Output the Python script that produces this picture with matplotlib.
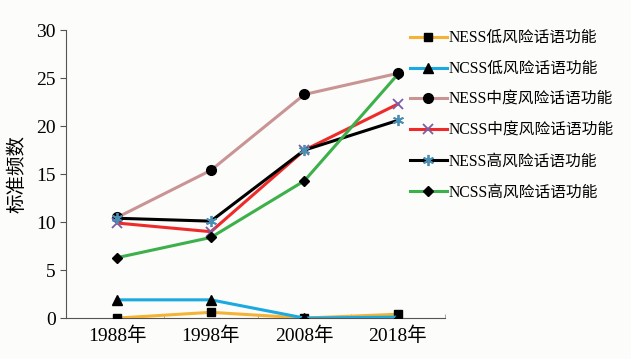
import matplotlib.pyplot as plt

# data
years = ['1988年', '1998年', '2008年', '2018年']
nessLow = [0.0, 0.6, 0.0, 0.4]
ncssLow = [1.9, 1.9, 0.0, 0.1]
nessMid = [10.5, 15.4, 23.3, 25.5]
ncssMid = [9.9, 9.0, 17.5, 22.3]
nessHigh = [10.4, 10.1, 17.5, 20.6]
ncssHigh = [6.3, 8.4, 14.3, 25.4]

labels = ['NESS低风险话语功能', 'NCSS低风险话语功能', 'NESS中度风险话语功能',
          'NCSS中度风险话语功能', 'NESS高风险话语功能', 'NCSS高风险话语功能']

plt.rcParams['font.family'] = ['Liberation Serif', 'Noto Sans CJK SC']

fig = plt.figure(figsize=(6.31, 3.59), dpi=100)
fig.patch.set_facecolor('#fcfcfa')
ax = fig.add_axes((0.1046, 0.114, 0.6, 0.802))
ax.set_facecolor('#fcfcfa')

x = list(range(len(years)))
lw = 2.2
ax.plot(x, nessLow, color='#f5b335', lw=lw, marker='s', ms=6,
        mfc='black', mec='black', label=labels[0], zorder=3)
ax.plot(x, ncssLow, color='#1ba9e1', lw=lw, marker='^', ms=6.5,
        mfc='black', mec='black', label=labels[1], zorder=3)
ax.plot(x, nessMid, color='#c99494', lw=lw, marker='o', ms=7,
        mfc='black', mec='black', label=labels[2], zorder=3)
ax.plot(x, ncssMid, color='#ee2a2a', lw=lw, marker='x', ms=7, mew=1.3,
        mec='#7a5ea8', label=labels[3], zorder=3)
ax.plot(x, nessHigh, color='black', lw=lw, marker=(6, 2, 0), ms=8, mew=1.3,
        mec='#4a8fb3', label=labels[4], zorder=3)
ax.plot(x, ncssHigh, color='#3cb04a', lw=lw, marker='D', ms=5,
        mfc='black', mec='black', label=labels[5], zorder=3)

ax.set_xlim(-0.55, 3.5)
ax.set_ylim(0, 30)
ax.set_yticks([0, 5, 10, 15, 20, 25, 30])
ax.set_xticks(x)
ax.set_xticklabels(years)
ax.set_xticks([0.5, 1.5, 2.5, 3.5], minor=True)
ax.tick_params(axis='x', which='major', length=0, labelsize=14, pad=6)
ax.tick_params(axis='x', which='minor', length=3, direction='in', color='#999999')
ax.tick_params(axis='y', labelsize=14, length=4, direction='out', color='#555555')
ax.spines['top'].set_visible(False)
ax.spines['right'].set_visible(False)
ax.spines['left'].set_color('#555555')
ax.spines['bottom'].set_color('#555555')
ax.set_ylabel('标准频数', fontsize=14, family=['Noto Sans CJK SC'], labelpad=6)

ax.legend(loc='upper left', bbox_to_anchor=(0.908, 1.0), frameon=False,
          fontsize=11.3, handlelength=2.35, handletextpad=0.12,
          labelspacing=0.95, borderaxespad=0, borderpad=0)

fig.savefig('out.png', dpi=100, facecolor=fig.get_facecolor())
